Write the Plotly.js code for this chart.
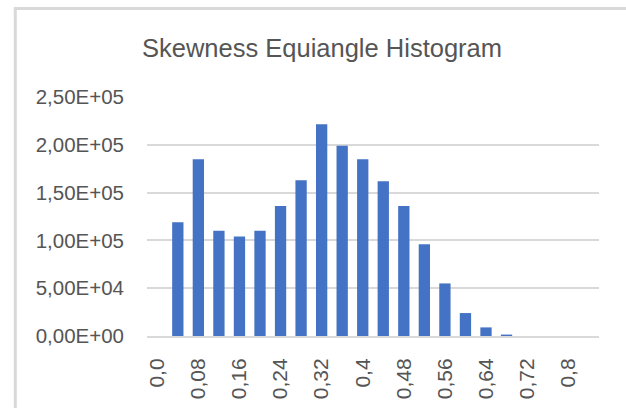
<!DOCTYPE html>
<html>
<head>
<meta charset="utf-8">
<script src="https://cdn.plot.ly/plotly-3.0.1.min.js"></script>
<style>
html,body{margin:0;padding:0;background:#fff;}
#chart{width:626px;height:408px;}
</style>
</head>
<body>
<div id="chart"></div>
<script>
// Bin centres (skewness) and counts
const categories = [0.00, 0.04, 0.08, 0.12, 0.16, 0.20, 0.24, 0.28, 0.32, 0.36, 0.40,
                    0.44, 0.48, 0.52, 0.56, 0.60, 0.64, 0.68, 0.72, 0.76, 0.80, 0.84];
const counts = [0, 119000, 185000, 110000, 104000, 110000, 136000, 163000, 221500, 199000, 185000,
                162000, 136000, 96000, 55000, 24000, 9000, 1500, 0, 0, 0, 0];
const xTickVals = [0, 0.08, 0.16, 0.24, 0.32, 0.40, 0.48, 0.56, 0.64, 0.72, 0.80];
const xTickText = ["0,0", "0,08", "0,16", "0,24", "0,32", "0,4", "0,48", "0,56", "0,64", "0,72", "0,8"];
const yTickVals = [0, 50000, 100000, 150000, 200000, 250000];
const yTickText = ["0,00E+00", "5,00E+04", "1,00E+05", "1,50E+05", "2,00E+05", "2,50E+05"];

const W = 626, H = 408;
const mL = 147, mR = 27, mT = 97, mB = 72;
const pw = W - mL - mR, ph = H - mT - mB;
const px = v => (v - mL) / pw;
const py = v => (H - mB - v) / ph;

const trace = {
  type: 'bar',
  x: categories,
  y: counts,
  marker: {color: '#4472C4'},
  width: 0.022,
  hoverinfo: 'x+y'
};

const layout = {
  width: W, height: H,
  margin: {l: mL, r: mR, t: mT, b: mB, pad: 0},
  paper_bgcolor: '#ffffff',
  plot_bgcolor: '#ffffff',
  font: {family: '"Liberation Sans", Arial, sans-serif', color: '#555555'},
  showlegend: false,
  title: {
    text: 'Skewness Equiangle Histogram',
    font: {size: 25.5, color: '#555555', family: '"Liberation Sans", Arial, sans-serif'},
    x: 322 / W, xref: 'container', xanchor: 'center',
    y: 1 - 48 / H, yref: 'container', yanchor: 'middle'
  },
  xaxis: {
    range: [-0.02, 0.86],
    tickmode: 'array',
    tickvals: xTickVals,
    ticktext: xTickText,
    tickangle: -90,
    tickfont: {size: 21, color: '#555555'},
    ticks: '',
    ticklabelstandoff: 12,
    showgrid: false,
    showline: true,
    linecolor: '#d9d9d9',
    linewidth: 2,
    zeroline: false,
    fixedrange: true
  },
  yaxis: {
    range: [0, 250000],
    tickmode: 'array',
    tickvals: yTickVals,
    ticktext: yTickText,
    tickfont: {size: 20.5, color: '#555555'},
    ticks: '',
    ticklabelstandoff: 22,
    showgrid: true,
    gridcolor: '#d9d9d9',
    gridwidth: 2,
    zeroline: false,
    showline: false,
    fixedrange: true
  },
  shapes: [
    {type: 'line', xref: 'paper', yref: 'paper', x0: px(15.3), x1: px(15.3), y0: py(H + 5), y1: py(8.5),
     line: {color: '#d9d9d9', width: 3}},
    {type: 'line', xref: 'paper', yref: 'paper', x0: px(13.8), x1: px(W + 5), y0: py(8.5), y1: py(8.5),
     line: {color: '#d9d9d9', width: 3}}
  ]
};

Plotly.newPlot('chart', [trace], layout, {displayModeBar: false, staticPlot: true});
</script>
</body>
</html>
